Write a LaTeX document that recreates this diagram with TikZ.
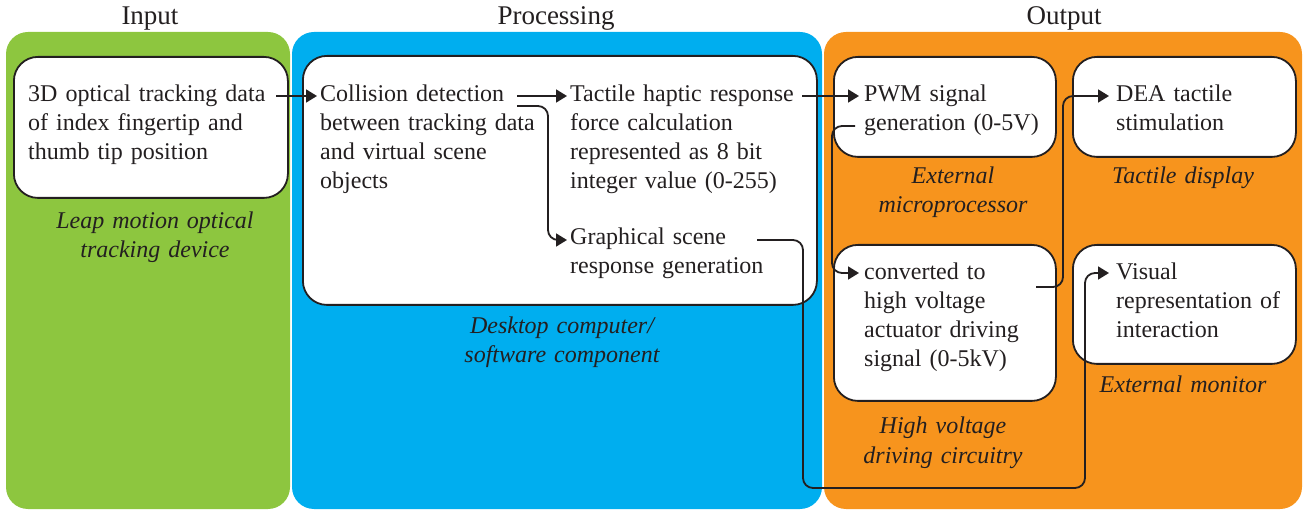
\documentclass[tikz,border=0pt]{standalone}
\usepackage{fontspec}
\setmainfont{Liberation Serif}
\usetikzlibrary{arrows.meta}
\definecolor{pgreen}{HTML}{8DC63F}
\definecolor{pblue}{HTML}{00AEEF}
\definecolor{porange}{HTML}{F7941D}
\definecolor{ink}{HTML}{231F20}
\begin{document}
\begin{tikzpicture}[x=1pt,y=-1pt,
  panel/.style={rounded corners=22pt},
  box/.style={draw=ink, line width=1.8pt, fill=white, rounded corners=24pt, anchor=north west, inner sep=0pt},
  txt/.style={text=ink, font=\fontsize{24}{29}\selectfont, align=left, anchor=base west, inner sep=0pt, text width=#1},
  lbl/.style={text=ink, font=\fontsize{24}{29}\selectfont\itshape, align=center, anchor=base, inner sep=0pt, text width=300pt},
  ttl/.style={text=ink, font=\fontsize{27}{30}\selectfont, anchor=base, inner sep=0pt},
  conn/.style={draw=ink, line width=1.8pt, rounded corners=10pt, -{Triangle[length=11pt,width=13pt]}}
]
\useasboundingbox (0,0) rectangle (1304,510);
% panels
\fill[pgreen, panel] (6,32) rectangle (290,509);
\fill[pblue, panel] (292,32) rectangle (822,509);
\fill[porange, panel] (824,32) rectangle (1302,509);
% titles
\node[ttl] (tin) at (150,25) {Input};
\node[ttl] (tproc) at (556,25) {Processing};
\node[ttl] (tout) at (1064,25) {Output};
% boxes
\node[box, minimum width=274pt, minimum height=141pt] (b1) at (13,56) {};
\node[box, minimum width=514pt, minimum height=249pt] (b2) at (302,55) {};
\node[box, minimum width=222pt, minimum height=100pt] (b3) at (833,56) {};
\node[box, minimum width=222pt, minimum height=156pt] (b4) at (833,244) {};
\node[box, minimum width=223pt, minimum height=100pt] (b5) at (1072,56) {};
\node[box, minimum width=223pt, minimum height=119pt] (b6) at (1072,244) {};
% box texts
\node[txt=250pt] (t1) at (28,102) {3D optical tracking data\\of index fingertip and\\thumb tip position};
\node[txt=240pt] (coll) at (320,102) {Collision detection\\between tracking data\\and virtual scene\\objects};
\node[txt=240pt] (tact) at (570,102) {Tactile haptic response\\force calculation\\represented as 8 bit\\integer value (0-255)};
\node[txt=240pt] (graph) at (570,245) {Graphical scene\\response generation};
\node[txt=200pt] (pwm) at (864,102) {PWM signal\\generation (0-5V)};
\node[txt=200pt] (conv) at (864,280) {converted to\\high voltage\\actuator driving\\signal (0-5kV)};
\node[txt=190pt] (dea) at (1116,102) {DEA tactile\\stimulation};
\node[txt=190pt] (vis) at (1116,280) {Visual\\representation of\\interaction};
% labels
\node[lbl] (l1) at (155,229) {Leap motion optical\\tracking device};
\node[lbl] (l2) at (562,334) {Desktop computer/\\software component};
\node[lbl] (l3) at (953,184) {External\\microprocessor};
\node[lbl] (l4) at (943,434) {High voltage\\driving circuitry};
\node[lbl] (l5) at (1183,184) {Tactile display};
\node[lbl] (l6) at (1183,393) {External monitor};
% connector start points
\coordinate (s1) at (276,96);
\coordinate (s2) at (517,96);
\coordinate (s3) at (517,106);
\coordinate (s4) at (802,96);
\coordinate (s5) at (855,126);
\coordinate (s6) at (1036,287);
\coordinate (s7) at (757,240);
\coordinate (c7) at (803,488);
% connectors
\draw[conn] (s1) -- ([xshift=-3pt,yshift=6pt]coll.base west);
\draw[conn] (s2) -- ([xshift=-3pt,yshift=6pt]tact.base west);
\draw[conn] (s3) -| ([xshift=-22pt,yshift=5pt]graph.base west) -- ([xshift=-3pt,yshift=5pt]graph.base west);
\draw[conn] (s4) -- ([xshift=-5pt,yshift=6pt]pwm.base west);
\draw[conn] (s5) -| ([xshift=-32pt,yshift=7pt]conv.base west) -- ([xshift=-5pt,yshift=7pt]conv.base west);
\draw[conn] (s6) -| ([xshift=-53pt,yshift=6pt]dea.base west) -- ([xshift=-7pt,yshift=6pt]dea.base west);
\draw[conn] (s7) -| (c7) -| ([xshift=-31pt,yshift=7pt]vis.base west) -- ([xshift=-7pt,yshift=7pt]vis.base west);
\end{tikzpicture}
\end{document}
